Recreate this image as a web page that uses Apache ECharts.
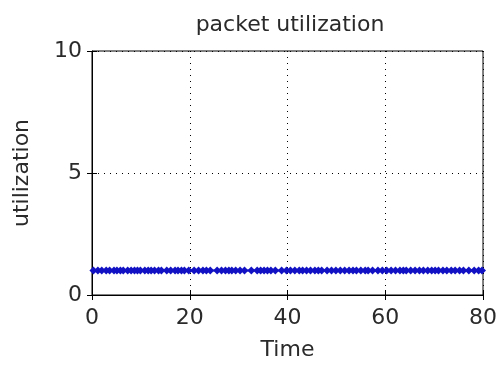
<!DOCTYPE html>
<html>
<head>
<meta charset="utf-8">
<script src="https://cdn.jsdelivr.net/npm/echarts@6/dist/echarts.min.js"></script>
<style>
  html, body { margin: 0; padding: 0; background: #fff; }
  #chart { width: 500px; height: 366px; }
</style>
</head>
<body>
<div id="chart"></div>
<script>
// packet samples: [time, utilization]
const samples = [
  [0.3, 1], [1.2, 1], [2.0, 1], [2.9, 1], [3.6, 1], [4.5, 1], [5.1, 1], [5.8, 1],
  [6.4, 1], [7.3, 1], [8.0, 1], [8.7, 1], [9.3, 1], [9.9, 1], [10.8, 1], [11.5, 1],
  [12.1, 1], [12.8, 1], [13.6, 1], [14.2, 1], [15.3, 1], [16.1, 1], [17.0, 1], [17.6, 1],
  [18.3, 1], [18.9, 1], [19.8, 1], [20.9, 1], [21.8, 1], [22.7, 1], [23.4, 1], [24.2, 1],
  [25.6, 1], [26.5, 1], [27.3, 1], [28.0, 1], [28.6, 1], [29.4, 1], [30.3, 1], [31.2, 1],
  [32.6, 1], [33.8, 1], [34.5, 1], [35.2, 1], [35.9, 1], [36.6, 1], [37.5, 1], [38.8, 1],
  [39.8, 1], [40.6, 1], [41.5, 1], [42.4, 1], [43.1, 1], [43.9, 1], [44.7, 1], [45.6, 1],
  [46.3, 1], [47.0, 1], [48.1, 1], [49.0, 1], [49.9, 1], [50.8, 1], [51.7, 1], [52.6, 1],
  [53.4, 1], [54.1, 1], [55.0, 1], [55.9, 1], [56.5, 1], [57.4, 1], [58.5, 1], [59.4, 1],
  [60.3, 1], [61.2, 1], [62.1, 1], [63.0, 1], [63.7, 1], [64.3, 1], [65.2, 1], [66.1, 1],
  [67.0, 1], [67.8, 1], [68.7, 1], [69.5, 1], [70.2, 1], [70.9, 1], [71.8, 1], [72.6, 1],
  [73.5, 1], [74.3, 1], [75.2, 1], [76.0, 1], [77.1, 1], [78.2, 1], [79.1, 1], [79.8, 1]
];
const xTicks = [0, 20, 40, 60, 80];
const yTicks = [0, 5, 10];

const font = "DejaVu Sans";
const textColor = "#2a2a2a";
const chart = echarts.init(document.getElementById("chart"), null, { renderer: "canvas" });

const tick = { show: true, inside: true, length: 5, lineStyle: { color: "#000" } };

chart.setOption({
  backgroundColor: "#fff",
  animation: false,
  title: {
    text: "packet utilization",
    left: 285,
    top: 9,
    textAlign: "center",
    textStyle: { fontFamily: font, fontSize: 22, fontWeight: "normal", color: textColor }
  },
  grid: {
    left: 92, right: 16, top: 51, bottom: 69,
    show: true, borderColor: "#000", borderWidth: 1, backgroundColor: "#fff"
  },
  xAxis: [{
    type: "value",
    min: xTicks[0], max: xTicks[xTicks.length - 1], interval: 20,
    name: "Time", nameLocation: "middle", nameGap: 44,
    nameTextStyle: { fontFamily: font, fontSize: 22, color: textColor },
    axisLine: { show: true, lineStyle: { color: "#000" } },
    axisTick: tick,
    axisLabel: { fontFamily: font, fontSize: 22, color: textColor, margin: 12 },
    splitLine: { show: true, lineStyle: { color: "#000", type: [1, 5] } }
  }, {
    type: "value", position: "top",
    min: xTicks[0], max: xTicks[xTicks.length - 1], interval: 20,
    axisLine: { show: false }, axisTick: tick,
    axisLabel: { show: false }, splitLine: { show: false }
  }],
  yAxis: [{
    type: "value",
    min: yTicks[0], max: yTicks[yTicks.length - 1], interval: 5,
    name: "utilization", nameLocation: "middle", nameGap: 59, nameRotate: 90,
    nameTextStyle: { fontFamily: font, fontSize: 22, color: textColor },
    axisLine: { show: true, lineStyle: { color: "#000" } },
    axisTick: tick,
    axisLabel: { fontFamily: font, fontSize: 22, color: textColor, margin: 10 },
    splitLine: { show: true, lineStyle: { color: "#000", type: [1, 5] } }
  }, {
    type: "value", position: "right",
    min: yTicks[0], max: yTicks[yTicks.length - 1], interval: 5,
    axisLine: { show: false }, axisTick: tick,
    axisLabel: { show: false }, splitLine: { show: false }
  }],
  series: [{
    type: "line",
    data: samples,
    symbol: "diamond",
    symbolSize: 8,
    showSymbol: true,
    lineStyle: { color: "#1212c4", width: 2 },
    itemStyle: { color: "#1212c4" }
  }]
});
</script>
</body>
</html>
